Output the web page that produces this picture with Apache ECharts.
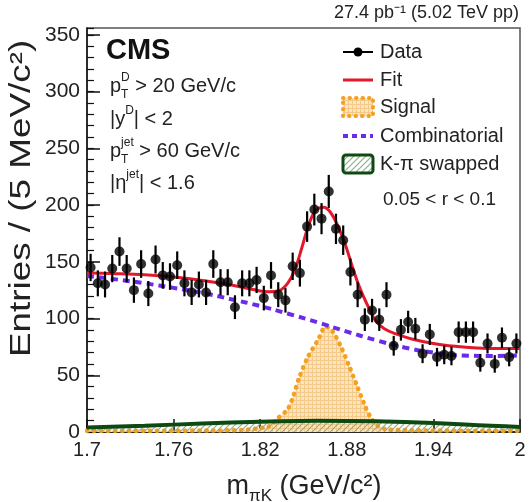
<!DOCTYPE html>
<html>
<head>
<meta charset="utf-8">
<script src="https://cdn.jsdelivr.net/npm/echarts@6.0.0/dist/echarts.min.js"></script>
<style>
  html, body { margin: 0; padding: 0; background: #fff; }
  #chart { width: 529px; height: 502px; }
</style>
</head>
<body>
<div id="chart"></div>
<script>
// bin centres (5 MeV bins) and counts
var binCenters = [
  1.7025,1.7075,1.7125,1.7175,1.7225,1.7275,1.7325,1.7375,1.7425,1.7475,
  1.7525,1.7575,1.7625,1.7675,1.7725,1.7775,1.7825,1.7875,1.7925,1.7975,
  1.8025,1.8075,1.8125,1.8175,1.8225,1.8275,1.8325,1.8375,1.8425,1.8475,
  1.8525,1.8575,1.8625,1.8675,1.8725,1.8775,1.8825,1.8875,1.8925,1.8975,
  1.9025,1.9075,1.9125,1.9175,1.9225,1.9275,1.9325,1.9375,1.9425,1.9475,
  1.9525,1.9575,1.9625,1.9675,1.9725,1.9775,1.9825,1.9875,1.9925,1.9975
];
var counts = [
  145,131,130,144,159,144,125,148,122,152,
  138,137,147,131,123,130,123,148,132,132,
  110,131,131,134,118,138,121,116,146,140,
  181,196,188,212,179,169,141,121,99,107,
  99,121,76,90,97,91,69,86,66,68,
  67,88,88,88,61,78,60,83,66,78
];

// fit components
var fitX = [1.700,1.720,1.740,1.760,1.780,1.800,1.815,1.826,1.833,1.839,1.844,1.849,1.854,1.859,1.864,
            1.869,1.874,1.879,1.884,1.889,1.895,1.900,1.906,1.915,1.925,1.940,1.955,1.970,1.985,2.000];
var fitY = [140,139.5,138.5,136.5,133.5,129.5,125.5,123.5,124.5,131,143,163,184,196,198,
            193,181,165,145,127,110,98,91,86,82,78,75.5,74,73.5,73.5];

var combX = [1.70,1.72,1.74,1.76,1.78,1.80,1.82,1.84,1.86,1.88,1.90,1.92,1.94,1.96,1.98,2.00];
var combY = [137.5,134.5,131,127,122.5,117,111,104,96.5,88.5,81,74.5,70,67.5,67,67.5];

var signalX = [1.70,1.80,1.826,1.832,1.839,1.843,1.847,1.853,1.860,1.8655,1.870,1.876,1.882,1.887,1.893,1.897,1.902,1.91,2.00];
var signalY = [1,1.5,5,12,20,32,48,66,81,93,89,75,57,41,22,12,5,2,1];

var swapX = [1.70,1.74,1.78,1.82,1.86,1.90,1.94,1.98,2.00];
var swapY = [4,5.5,7.5,9,10,9.5,8,5.5,4.5];

var xTicks = [1.7, 1.76, 1.82, 1.88, 1.94, 2];
var yTicks = [0, 50, 100, 150, 200, 250, 300, 350];

(function(){
  var FONT = "'Liberation Sans', Arial, Helvetica, sans-serif";
  var RED = '#e3192b', PURPLE = '#6a2ce8', ORANGE = '#f5a020', GREEN = '#0d4a12';

  function zip(xs, ys){
    var out = [];
    for (var i = 0; i < xs.length; i++) out.push([xs[i], ys[i]]);
    return out;
  }

  // fill patterns
  function hatchCanvas(){
    var c = document.createElement('canvas');
    c.width = c.height = 6;
    var g = c.getContext('2d');
    g.strokeStyle = '#8fae8f';
    g.lineWidth = 1.2;
    g.beginPath();
    g.moveTo(-1, 1); g.lineTo(1, -1);
    g.moveTo(0, 6); g.lineTo(6, 0);
    g.moveTo(5, 7); g.lineTo(7, 5);
    g.stroke();
    return c;
  }
  function dotCanvas(){
    var c = document.createElement('canvas');
    c.width = c.height = 4;
    var g = c.getContext('2d');
    g.fillStyle = '#fde6bf';
    g.fillRect(0, 0, 4, 4);
    g.fillStyle = '#f4c98a';
    g.fillRect(0, 0, 4, 1);
    g.fillRect(0, 0, 1, 4);
    return c;
  }
  var hatch = { image: hatchCanvas(), repeat: 'repeat' };
  var dots = { image: dotCanvas(), repeat: 'repeat' };

  // text runs with sub/superscripts, placed piece by piece
  var mctx = document.createElement('canvas').getContext('2d');
  function textWidth(t, size, bold){
    mctx.font = (bold ? 'bold ' : '') + size + 'px ' + FONT;
    return mctx.measureText(t).width;
  }
  function textRun(x, y, parts, center){
    var total = 0;
    parts.forEach(function(p){ if (!p.keep) total += textWidth(p.t, p.s, p.b); });
    var cx = center ? x - total / 2 : x;
    var els = [];
    parts.forEach(function(p){
      els.push({
        type: 'text', x: cx, y: y + (p.dy || 0),
        style: { text: p.t, fill: '#222', font: (p.b ? 'bold ' : '') + p.s + 'px ' + FONT,
                 textAlign: 'left', textVerticalAlign: 'middle' }
      });
      if (!p.keep) cx += textWidth(p.t, p.s, p.b);
    });
    return els;
  }

  var dataPts = binCenters.map(function(x, i){ return [x, counts[i], Math.sqrt(counts[i])]; });

  var graphics = [];
  graphics.push({ type: 'text', x: 519, y: 13,
    style: { text: '27.4 pb\u207B\u00B9 (5.02 TeV pp)', fill: '#222', font: '18px ' + FONT,
             textAlign: 'right', textVerticalAlign: 'middle' } });
  graphics.push({ type: 'text', x: 106, y: 51,
    style: { text: 'CMS', fill: '#111', font: 'bold 29px ' + FONT, textAlign: 'left', textVerticalAlign: 'middle' } });

  graphics = graphics.concat(
    textRun(110, 86, [{t:'p', s:20}, {t:'T', s:12, dy:9, keep:true}, {t:'D', s:12, dy:-8}, {t:' > 20 GeV/c', s:20}]),
    textRun(110, 119, [{t:'|y', s:20}, {t:'D', s:12, dy:-8}, {t:'| < 2', s:20}]),
    textRun(110, 151, [{t:'p', s:20}, {t:'T', s:12, dy:9, keep:true}, {t:'jet', s:12, dy:-8}, {t:' > 60 GeV/c', s:20}]),
    textRun(110, 183, [{t:'|\u03B7', s:20}, {t:'jet', s:12, dy:-8}, {t:'| < 1.6', s:20}]),
    textRun(304, 487, [{t:'m', s:27}, {t:'\u03C0K', s:17, dy:9}, {t:' (GeV/c\u00B2)', s:27}], true)
  );

  // y axis title, rotated
  graphics.push({ type: 'text', x: 22, y: 357, rotation: Math.PI / 2, scaleX: 1.27,
    style: { text: 'Entries / (5 MeV/c\u00B2)', fill: '#222', font: '29px ' + FONT,
             textAlign: 'left', textVerticalAlign: 'middle' } });

  // legend
  var LX = 343, LW = 30, TX = 380;
  graphics.push(
    { type: 'line', shape: { x1: LX, y1: 52, x2: LX + LW, y2: 52 }, style: { stroke: '#000', lineWidth: 2 } },
    { type: 'circle', shape: { cx: LX + LW / 2, cy: 52, r: 4.5 }, style: { fill: '#000' } },
    { type: 'line', shape: { x1: LX, y1: 80, x2: LX + LW, y2: 80 }, style: { stroke: RED, lineWidth: 3 } },
    { type: 'rect', shape: { x: LX, y: 98, width: LW, height: 18 },
      style: { fill: dots, stroke: ORANGE, lineWidth: 4, lineDash: [0.5, 6], lineCap: 'round' } },
    { type: 'line', shape: { x1: LX, y1: 136, x2: LX + LW, y2: 136 },
      style: { stroke: PURPLE, lineWidth: 4, lineDash: [5, 4] } },
    { type: 'rect', shape: { x: LX, y: 155, width: LW, height: 18, r: 3 },
      style: { fill: hatch, stroke: GREEN, lineWidth: 3 } }
  );
  [['Data', 52], ['Fit', 80], ['Signal', 107], ['Combinatorial', 136], ['K-\u03C0 swapped', 164]].forEach(function(l){
    graphics.push({ type: 'text', x: TX, y: l[1],
      style: { text: l[0], fill: '#222', font: '20px ' + FONT, textAlign: 'left', textVerticalAlign: 'middle' } });
  });
  graphics.push({ type: 'text', x: 383, y: 200,
    style: { text: '0.05 < r < 0.1', fill: '#222', font: '19px ' + FONT, textAlign: 'left', textVerticalAlign: 'middle' } });

  var option = {
    animation: false,
    backgroundColor: '#fff',
    grid: { left: 87, right: 9, top: 28, bottom: 70, show: true, borderColor: '#555', borderWidth: 1.5,
            outerBoundsMode: 'none' },
    xAxis: {
      type: 'value', min: 1.7, max: 2.0,
      axisLine: { show: true, onZero: false, lineStyle: { color: '#111', width: 1.5 } },
      axisTick: { inside: true, length: 13, customValues: xTicks, lineStyle: { color: '#111', width: 1.5 } },
      axisLabel: { customValues: xTicks, fontSize: 20, fontFamily: FONT, color: '#222', margin: 8,
                   formatter: function(v){ return String(Math.round(v * 100) / 100); } },
      splitLine: { show: false }
    },
    yAxis: [{
      type: 'value', min: 0, max: 356,
      axisLine: { show: true, lineStyle: { color: '#111', width: 1.5 } },
      axisTick: { inside: true, length: 13, customValues: yTicks, lineStyle: { color: '#111', width: 1.5 } },
      axisLabel: { customValues: yTicks, fontSize: 21, fontFamily: FONT, color: '#222', margin: 7 },
      splitLine: { show: false }
    }, {
      // minor ticks only
      type: 'value', min: 0, max: 356, interval: 10, position: 'left',
      axisLine: { show: false },
      axisTick: { inside: true, length: 7, lineStyle: { color: '#111', width: 1.2 } },
      axisLabel: { show: false },
      splitLine: { show: false }
    }],
    graphic: graphics,
    series: [
      { name: 'Signal', type: 'line', data: zip(signalX, signalY), showSymbol: false, smooth: 0.3, z: 2,
        lineStyle: { color: ORANGE, width: 4.5, type: [0.5, 6.5], cap: 'round' },
        areaStyle: { color: dots, opacity: 1 } },
      { name: 'K-pi swapped', type: 'line', data: zip(swapX, swapY), showSymbol: false, smooth: true, z: 3,
        lineStyle: { color: GREEN, width: 4 },
        areaStyle: { color: hatch, opacity: 1 } },
      { name: 'Combinatorial', type: 'line', data: zip(combX, combY), showSymbol: false, smooth: true, z: 4,
        lineStyle: { color: PURPLE, width: 4, type: [7, 5] } },
      { name: 'Fit', type: 'line', data: zip(fitX, fitY), showSymbol: false, smooth: 0.4, z: 5,
        lineStyle: { color: RED, width: 3 } },
      { name: 'Data err', type: 'custom', data: dataPts, z: 6,
        renderItem: function(params, api){
          var x = api.value(0), y = api.value(1), e = api.value(2);
          var a = api.coord([x, y + e]), b = api.coord([x, y - e]);
          return { type: 'line', shape: { x1: a[0], y1: a[1], x2: b[0], y2: b[1] },
                   style: { stroke: '#000', lineWidth: 2.2 } };
        } },
      { name: 'Data', type: 'scatter', data: dataPts, symbolSize: 10, z: 7,
        itemStyle: { color: '#000' } }
    ]
  };

  var chart = echarts.init(document.getElementById('chart'), null, { renderer: 'canvas' });
  chart.setOption(option);
})();
</script>
</body>
</html>
